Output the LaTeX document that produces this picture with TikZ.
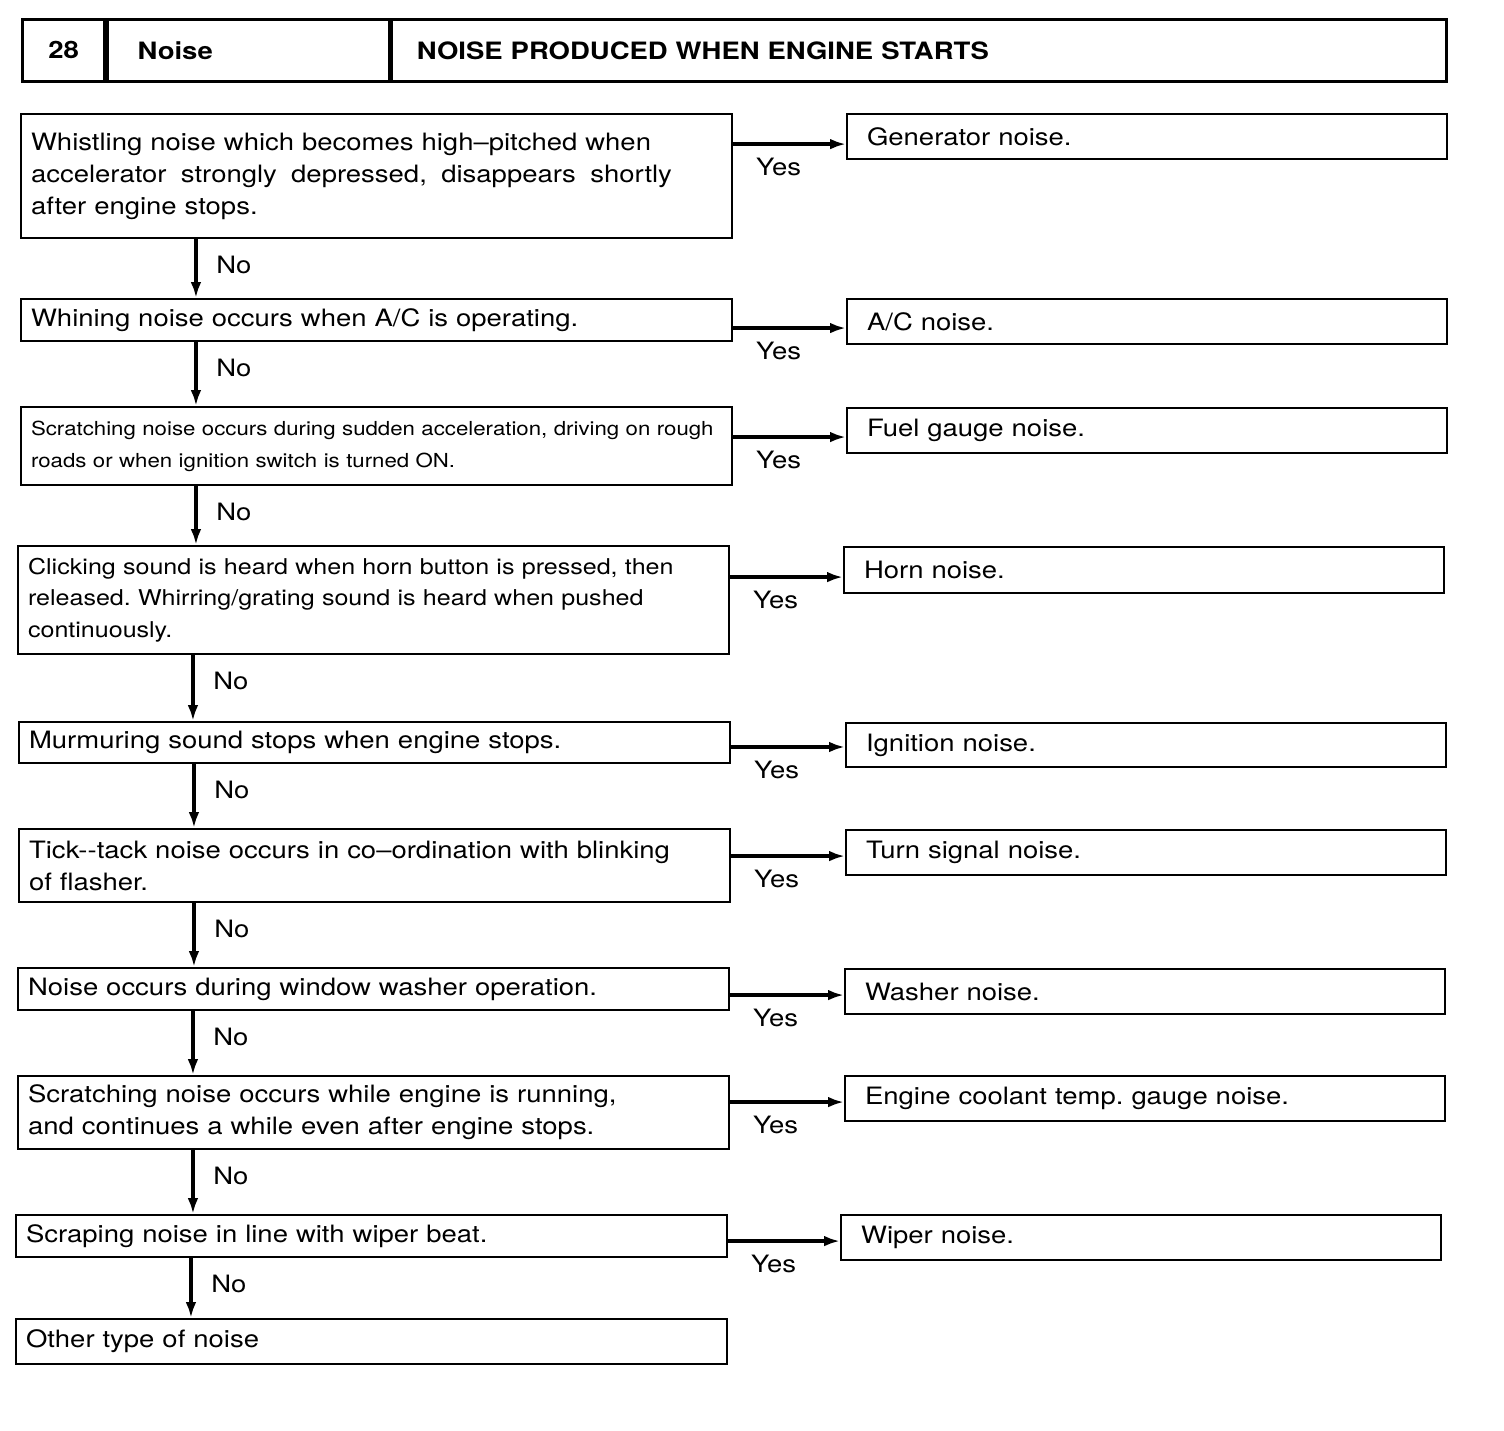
\documentclass[tikz,border=0pt]{standalone}
\usepackage{fontspec}
\setmainfont{TeX Gyre Heros}[FakeStretch=1.15]
\usetikzlibrary{arrows.meta}
\tikzset{
  qbox/.style={draw, line width=1.2pt, anchor=north west, minimum width=14.22cm,
    text width=13.82cm, inner xsep=0.2cm, inner ysep=0pt, align=left,
    font=\fontsize{13.6}{18.2}\selectfont},
  abox/.style={draw, line width=1.2pt, anchor=north west, minimum width=12cm,
    minimum height=0.9cm, text width=11.2cm, inner xsep=0.4cm, inner ysep=0pt,
    align=left, font=\fontsize{13.6}{18.2}\selectfont},
  hcell/.style={draw, line width=1.6pt, anchor=north west, minimum height=1.24cm,
    inner ysep=0pt, align=left, font=\bfseries\fontsize{13.6}{16}\selectfont},
  flow/.style={line width=2pt, -{Latex[length=9pt,width=6pt]}},
  ylab/.style={xshift=26pt, yshift=-13pt, font=\fontsize{13.6}{16}\selectfont},
  nlab/.style={xshift=21.6pt, yshift=-14.5pt, font=\fontsize{13.6}{16}\selectfont}
}
\frenchspacing

\begin{document}
\begin{tikzpicture}[x=0.02cm, y=-0.02cm]
  \useasboundingbox (0,0) rectangle (1504,1430);

  % header
  \node[hcell, minimum width=1.65cm, text width=1.65cm, inner xsep=0pt, align=center] (hnum) at (21,18) {28};
  \node[hcell, minimum width=5.63cm, text width=4.43cm, inner xsep=0.6cm] (hcat) at (hnum.north east) {Noise};
  \node[hcell, minimum width=21.09cm, text width=20.09cm, inner xsep=0.5cm] (htitle) at (hcat.north east) {NOISE PRODUCED WHEN ENGINE STARTS};

  % questions
  \node[qbox, minimum height=2.48cm] (q1) at (20,113)
    {Whistling noise which becomes high--pitched when\\
     \makebox[12.82cm]{accelerator\hfill strongly\hfill depressed,\hfill disappears\hfill shortly}\\
     after engine stops.};
  \node[qbox, minimum height=0.84cm] (q2) at (20,298) {Whining noise occurs when A/C is operating.};
  \node[qbox, minimum height=1.56cm, font=\fontsize{11}{18.2}\selectfont] (q3) at (20,406)
    {Scratching noise occurs during sudden acceleration, driving on rough\\ roads or when ignition switch is turned ON.};
  \node[qbox, minimum height=2.16cm, font=\fontsize{12.4}{18}\selectfont] (q4) at (17,545)
    {Clicking sound is heard when horn button is pressed, then\\ released. Whirring/grating sound is heard when pushed\\ continuously.};
  \node[qbox, minimum height=0.82cm] (q5) at (18,721) {Murmuring sound stops when engine stops.};
  \node[qbox, minimum height=1.46cm] (q6) at (18,828)
    {Tick-{}-tack noise occurs in co--ordination with blinking\\ of flasher.};
  \node[qbox, minimum height=0.84cm] (q7) at (17,967) {Noise occurs during window washer operation.};
  \node[qbox, minimum height=1.46cm] (q8) at (17,1075)
    {Scratching noise occurs while engine is running,\\ and continues a while even after engine stops.};
  \node[qbox, minimum height=0.84cm] (q9) at (15,1214) {Scraping noise in line with wiper beat.};
  \node[qbox, minimum height=0.9cm] (q10) at (15,1318) {Other type of noise};

  % answers
  \node[abox] (a1) at (846,113) {Generator noise.};
  \node[abox] (a2) at (846,298) {A/C noise.};
  \node[abox] (a3) at (846,407) {Fuel gauge noise.};
  \node[abox, minimum height=0.92cm] (a4) at (843,546) {Horn noise.};
  \node[abox, minimum height=0.88cm] (a5) at (845,722) {Ignition noise.};
  \node[abox] (a6) at (845,829) {Turn signal noise.};
  \node[abox] (a7) at (844,968) {Washer noise.};
  \node[abox] (a8) at (844,1075) {Engine coolant temp. gauge noise.};
  \node[abox] (a9) at (840,1214) {Wiper noise.};

  % yes
  \coordinate (t1) at ([yshift=-4.3pt]a1.west);
  \coordinate (t2) at ([yshift=-3.7pt]a2.west);
  \coordinate (t3) at ([yshift=-3.7pt]a3.west);
  \coordinate (t4) at ([yshift=-4pt]a4.west);
  \coordinate (t5) at ([yshift=-1.1pt]a5.west);
  \coordinate (t6) at ([yshift=-2pt]a6.west);
  \coordinate (t7) at ([yshift=-2pt]a7.west);
  \coordinate (t8) at ([yshift=-2pt]a8.west);
  \coordinate (t9) at ([yshift=-2pt]a9.west);
  \draw[flow] (q1.east |- t1) -- (t1) node[pos=0, ylab] (y1) {Yes};
  \draw[flow] (q2.east |- t2) -- (t2) node[pos=0, ylab] (y2) {Yes};
  \draw[flow] (q3.east |- t3) -- (t3) node[pos=0, ylab] (y3) {Yes};
  \draw[flow] (q4.east |- t4) -- (t4) node[pos=0, ylab] (y4) {Yes};
  \draw[flow] (q5.east |- t5) -- (t5) node[pos=0, ylab] (y5) {Yes};
  \draw[flow] (q6.east |- t6) -- (t6) node[pos=0, ylab] (y6) {Yes};
  \draw[flow] (q7.east |- t7) -- (t7) node[pos=0, ylab] (y7) {Yes};
  \draw[flow] (q8.east |- t8) -- (t8) node[pos=0, ylab] (y8) {Yes};
  \draw[flow] (q9.east |- t9) -- (t9) node[pos=0, ylab] (y9) {Yes};

  % no
  \draw[flow] ([xshift=3.52cm]q1.south west) -- ([xshift=3.52cm]q1.south west |- q2.north) node[pos=0, nlab] (n1) {No};
  \draw[flow] ([xshift=3.52cm]q2.south west) -- ([xshift=3.52cm]q2.south west |- q3.north) node[pos=0, nlab] (n2) {No};
  \draw[flow] ([xshift=3.52cm]q3.south west) -- ([xshift=3.52cm]q3.south west |- q4.north) node[pos=0, nlab] (n3) {No};
  \draw[flow] ([xshift=3.52cm]q4.south west) -- ([xshift=3.52cm]q4.south west |- q5.north) node[pos=0, nlab] (n4) {No};
  \draw[flow] ([xshift=3.52cm]q5.south west) -- ([xshift=3.52cm]q5.south west |- q6.north) node[pos=0, nlab] (n5) {No};
  \draw[flow] ([xshift=3.52cm]q6.south west) -- ([xshift=3.52cm]q6.south west |- q7.north) node[pos=0, nlab] (n6) {No};
  \draw[flow] ([xshift=3.52cm]q7.south west) -- ([xshift=3.52cm]q7.south west |- q8.north) node[pos=0, nlab] (n7) {No};
  \draw[flow] ([xshift=3.52cm]q8.south west) -- ([xshift=3.52cm]q8.south west |- q9.north) node[pos=0, nlab] (n8) {No};
  \draw[flow] ([xshift=3.52cm]q9.south west) -- ([xshift=3.52cm]q9.south west |- q10.north) node[pos=0, nlab] (n9) {No};
\end{tikzpicture}
\end{document}
